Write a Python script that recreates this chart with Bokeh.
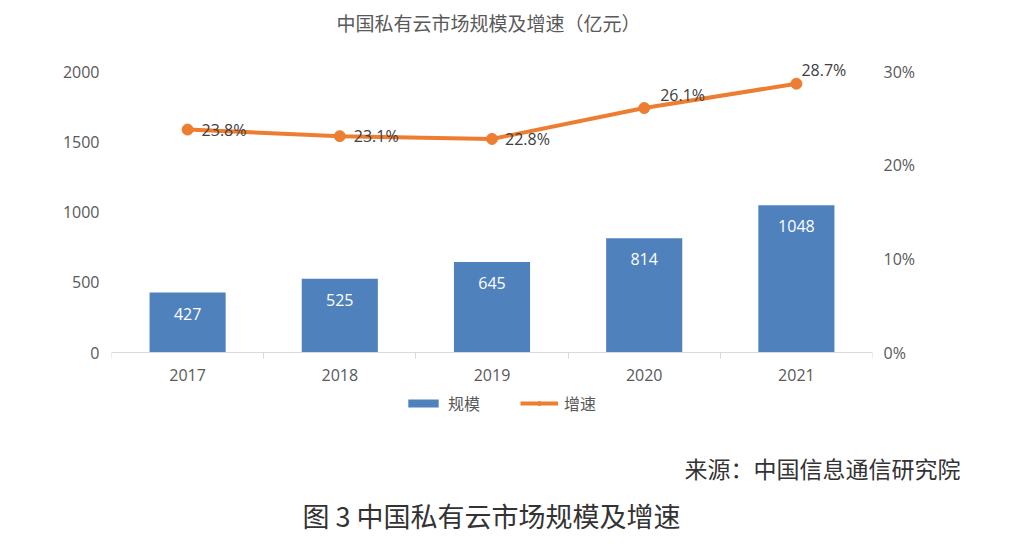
from bokeh.plotting import figure
from bokeh.models import (ColumnDataSource, Range1d, LinearAxis, FixedTicker, Label, Title,
                          Legend, LegendItem, PrintfTickFormatter, LabelSet)
from bokeh.core.properties import value
from bokeh.embed import file_html
from bokeh.resources import INLINE

# ---- data ----
years = ["2017", "2018", "2019", "2020", "2021"]
scale = [427, 525, 645, 814, 1048]          # 规模（亿元）
growth = [23.8, 23.1, 22.8, 26.1, 28.7]     # 增速（%）
left_ticks = [0, 500, 1000, 1500, 2000]
right_ticks = [0, 10, 20, 30]

title_text = "中国私有云市场规模及增速（亿元）"
source_text = "来源：中国信息通信研究院"
caption_text = "图 3  中国私有云市场规模及增速"

NUM_FONT = "Open Sans"
CJK_FONT = "Noto Sans CJK SC"
GRAY = "#595959"
BLUE = "#4F81BD"
ORANGE = "#ED7D31"

# ---- layout constants (pixels) ----
W, H = 1021, 544
FRAME_L, FRAME_R, FRAME_T, FRAME_B = 111, 872, 0, 448
AXIS_Y, TOP_Y = 352, 71            # pixel rows of value 0 and of the top tick
upp = left_ticks[-1] / (AXIS_Y - TOP_Y)
upp_r = right_ticks[-1] / (AXIS_Y - TOP_Y)

xs = [i + 1 for i in range(len(years))]
src = ColumnDataSource(dict(
    x=xs, scale=scale, growth=growth,
    scale_txt=[str(v) for v in scale],
    growth_txt=[f"{g}%" for g in growth],
    gx_off=[14, 14, 13, 16, 5],
    gy_off=[0, 0, 0, 13, 14],
))

p = figure(width=W, height=H, output_backend="svg", toolbar_location=None,
           x_range=Range1d(0.5, 5.5),
           y_range=Range1d(-(FRAME_B - AXIS_Y) * upp, left_ticks[-1] + (TOP_Y - FRAME_T) * upp),
           min_border_left=FRAME_L, min_border_right=W - FRAME_R, min_border_top=FRAME_T,
           min_border_bottom=H - FRAME_B, outline_line_color=None)
p.extra_y_ranges = {"pct": Range1d(-(FRAME_B - AXIS_Y) * upp_r,
                                   right_ticks[-1] + (TOP_Y - FRAME_T) * upp_r)}
p.xgrid.visible = False
p.ygrid.visible = False

# x axis, drawn at value 0
xa = p.xaxis[0]
xa.fixed_location = 0
xa.ticker = FixedTicker(ticks=xs, minor_ticks=[x - 0.5 for x in xs] + [xs[-1] + 0.5])
xa.major_label_overrides = {x: y for x, y in zip(xs, years)}
xa.axis_line_color = "#D9D9D9"
xa.major_tick_line_color = None
xa.major_tick_out = 0
xa.major_tick_in = 0
xa.minor_tick_line_color = "#D9D9D9"
xa.minor_tick_out = 6
xa.minor_tick_in = 0
xa.major_label_standoff = 10
xa.major_label_text_font = NUM_FONT
xa.major_label_text_font_size = "16px"
xa.major_label_text_color = GRAY

# left axis
ya = p.yaxis[0]
ya.ticker = FixedTicker(ticks=left_ticks)
ya.axis_line_color = None
ya.major_tick_line_color = None
ya.major_tick_out = 0
ya.major_tick_in = 0
ya.minor_tick_line_color = None
ya.major_label_standoff = 12
ya.major_label_text_font = NUM_FONT
ya.major_label_text_font_size = "16px"
ya.major_label_text_color = GRAY

# right axis
ra = LinearAxis(y_range_name="pct", ticker=FixedTicker(ticks=right_ticks),
                formatter=PrintfTickFormatter(format="%d%%"))
ra.axis_line_color = None
ra.major_tick_line_color = None
ra.major_tick_out = 0
ra.major_tick_in = 0
ra.minor_tick_line_color = None
ra.major_label_standoff = 11
ra.major_label_text_font = NUM_FONT
ra.major_label_text_font_size = "16px"
ra.major_label_text_color = GRAY
p.add_layout(ra, "right")

# bars
bars = p.vbar(x="x", top="scale", width=0.5, source=src, fill_color=BLUE, line_color=None)
p.add_layout(LabelSet(x="x", y="scale", text="scale_txt", source=src, text_align="center",
                      text_baseline="middle", y_offset=-21, text_color="white",
                      text_font=value(NUM_FONT), text_font_size="16px"))

# line
ln = p.line(x="x", y="growth", source=src, y_range_name="pct", line_color=ORANGE,
            line_width=4)
mk = p.scatter(x="x", y="growth", source=src, y_range_name="pct", size=11,
               fill_color=ORANGE, line_color=ORANGE)
p.add_layout(LabelSet(x="x", y="growth", text="growth_txt", source=src, y_range_name="pct",
                      x_offset="gx_off", y_offset="gy_off", text_align="left",
                      text_baseline="middle", text_color="#404040",
                      text_font=value(NUM_FONT), text_font_size="16px"))

# legend inside the (extended) frame, under the x axis
legend = Legend(items=[LegendItem(label="规模", renderers=[bars]),
                       LegendItem(label="增速", renderers=[ln, mk])],
                orientation="horizontal", location=(404 - FRAME_L, FRAME_B - 415),
                padding=0, margin=0,
                spacing=40, glyph_width=38, glyph_height=10, label_standoff=6,
                border_line_color=None, background_fill_alpha=0,
                label_text_font=CJK_FONT, label_text_font_size="16px",
                label_text_color=GRAY)
p.add_layout(legend, "center")

# chart title inside the frame (frame-relative screen units)
p.add_layout(Label(x=488 - FRAME_L, y=FRAME_B - 22, x_units="screen", y_units="screen",
                   text=title_text, text_align="center", text_baseline="middle",
                   text_font=CJK_FONT, text_font_size="19px", text_color=GRAY))

# source and caption below
p.add_layout(Title(text=source_text, align="right", offset=-(960 - FRAME_R), standoff=0,
                   text_font=CJK_FONT, text_font_size="23px", text_font_style="normal",
                   text_color="#333333"), "below")
p.add_layout(Title(text=caption_text, align="left", offset=302 - FRAME_L, standoff=18,
                   text_font=CJK_FONT, text_font_size="27px", text_font_style="normal",
                   text_color="#333333"), "below")

open("out.html", "w").write(file_html(p, INLINE))
